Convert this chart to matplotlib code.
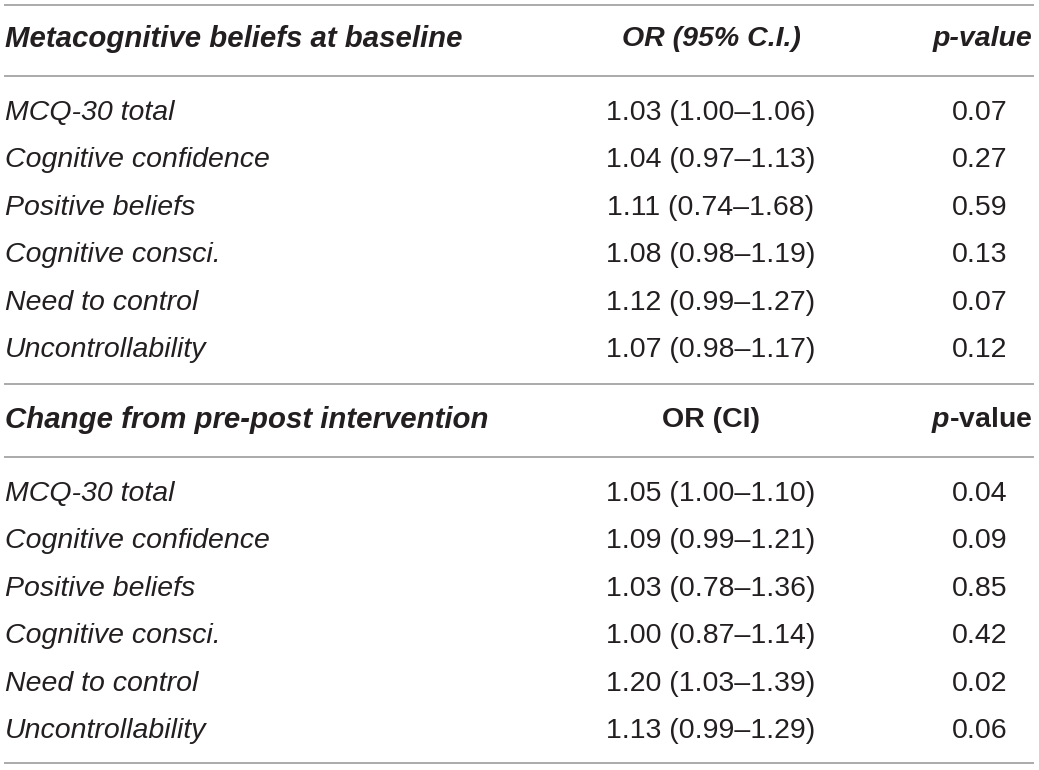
import matplotlib.pyplot as plt

plt.rcParams["font.family"] = ["Liberation Sans", "DejaVu Sans"]
plt.rcParams["mathtext.fontset"] = "custom"
plt.rcParams["mathtext.bfit"] = "Liberation Sans:italic:bold"

# table content
baseline_header = "Metacognitive beliefs at baseline"
change_header = "Change from pre-post intervention"
measures = ["MCQ-30 total", "Cognitive confidence", "Positive beliefs",
            "Cognitive consci.", "Need to control", "Uncontrollability"]
baseline_or = ["1.03 (1.00–1.06)", "1.04 (0.97–1.13)", "1.11 (0.74–1.68)",
               "1.08 (0.98–1.19)", "1.12 (0.99–1.27)", "1.07 (0.98–1.17)"]
baseline_p = ["0.07", "0.27", "0.59", "0.13", "0.07", "0.12"]
change_or = ["1.05 (1.00–1.10)", "1.09 (0.99–1.21)", "1.03 (0.78–1.36)",
             "1.00 (0.87–1.14)", "1.20 (1.03–1.39)", "1.13 (0.99–1.29)"]
change_p = ["0.04", "0.09", "0.85", "0.42", "0.02", "0.06"]

W, H = 1039, 770
fig = plt.figure(figsize=(W / 100, H / 100), dpi=100)
ax = fig.add_axes([0, 0, 1, 1])
ax.set_xlim(0, W)
ax.set_ylim(H, 0)
ax.axis("off")

x_label, x_or, x_p, x_pr = 5, 711, 980, 1032
fs = 20.5
fs_head = 21.2
row_h = 47.4
ink = "#231f20"
line_kw = dict(color="#aaaaaa", lw=1.4)


def hline(y):
    ax.plot([5, 1033], [y, y], **line_kw)


def block(y_head, head, or_head, p_head, names, ors, ps, cond=False):
    ax.text(x_label, y_head, head, fontsize=fs_head, fontweight="bold",
            fontstyle="italic", va="center", ha="left", color=ink)
    ax.text(x_or, y_head, or_head, fontsize=fs, fontweight="bold",
            fontstyle="italic" if cond else "normal", va="center",
            ha="center", color=ink)
    ax.text(x_pr, y_head, p_head, fontsize=fs, fontweight="bold",
            fontstyle="italic" if cond else "normal", va="center",
            ha="right", color=ink)
    hline(y_head + 37)
    y0 = y_head + 74
    for i, (n, o, p) in enumerate(zip(names, ors, ps)):
        y = y0 + i * row_h
        ax.text(x_label, y, n, fontsize=fs, fontstyle="italic", va="center",
                ha="left", color=ink)
        ax.text(x_or, y, o, fontsize=fs, va="center", ha="center", color=ink)
        ax.text(x_p, y, p, fontsize=fs, va="center", ha="center", color=ink)


hline(5)
block(39, baseline_header, "OR (95% C.I.)", "p-value",
      measures, baseline_or, baseline_p, cond=True)
hline(384)
block(420, change_header, "OR (CI)", r"$\mathbfit{p}$-value",
      measures, change_or, change_p)
hline(763)

fig.savefig("out.png", dpi=100)
